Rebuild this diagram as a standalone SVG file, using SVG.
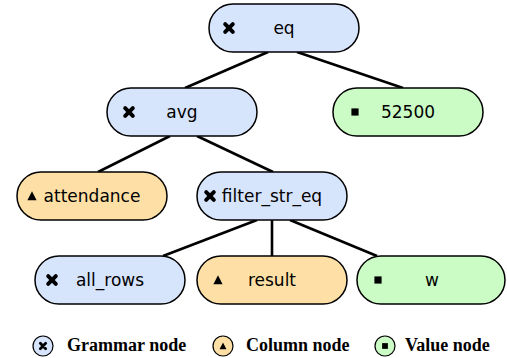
<svg xmlns="http://www.w3.org/2000/svg" width="507" height="358" viewBox="0 0 507 358">
  <style>
    .node { stroke: #000; stroke-width: 1.5; }
    .grammar { fill: #d6e4fc; }
    .column { fill: #fee0a6; }
    .value { fill: #ccfcc6; }
    .label { font-family: "DejaVu Sans", "Verdana", sans-serif; font-size: 17px; fill: #000; text-anchor: middle; }
    .edge { stroke: #000; stroke-width: 2.6; fill: none; }
    .legend-text { font-family: "Liberation Serif", "Times New Roman", serif; font-size: 18px; font-weight: bold; fill: #000; }
    .legend-dot { stroke: #000; stroke-width: 1.2; }
  </style>
  <defs>
    <!-- heavy cross marks grammar nodes -->
    <g id="icon-cross">
      <path d="M-3.8,-3.8 L3.8,3.8 M3.8,-3.8 L-3.8,3.8" stroke="#000" stroke-width="4" stroke-linecap="round"/>
    </g>
    <!-- triangle marks column nodes -->
    <path id="icon-tri" d="M0,-4.8 L4.6,4.2 L-4.6,4.2 Z" fill="#000"/>
    <!-- square marks value nodes -->
    <rect id="icon-sq" x="-3.6" y="-3.6" width="7.2" height="7.2" fill="#000"/>
  </defs>

  <g id="connectors">
    <line class="edge" x1="268" y1="52" x2="185" y2="88"/>
    <line class="edge" x1="297" y1="52" x2="403" y2="88"/>
    <line class="edge" x1="170" y1="136" x2="98" y2="172"/>
    <line class="edge" x1="197" y1="136" x2="273" y2="172"/>
    <line class="edge" x1="257" y1="220" x2="163" y2="256"/>
    <line class="edge" x1="272" y1="220" x2="272" y2="256"/>
    <line class="edge" x1="290" y1="220" x2="377" y2="256"/>
  </g>

  <g id="node-eq">
    <rect class="node grammar" x="209" y="4" width="150" height="48" rx="24"/>
    <use href="#icon-cross" x="229" y="28"/>
    <text class="label" x="284" y="34">eq</text>
  </g>

  <g id="node-avg">
    <rect class="node grammar" x="107" y="88" width="150" height="48" rx="24"/>
    <use href="#icon-cross" x="129" y="112"/>
    <text class="label" x="182" y="118">avg</text>
  </g>

  <g id="node-52500">
    <rect class="node value" x="333" y="88" width="150" height="48" rx="24"/>
    <use href="#icon-sq" x="355" y="112"/>
    <text class="label" x="408" y="118">52500</text>
  </g>

  <g id="node-attendance">
    <rect class="node column" x="17" y="172" width="150" height="48" rx="24"/>
    <use href="#icon-tri" x="32" y="196"/>
    <text class="label" x="92" y="202">attendance</text>
  </g>

  <g id="node-filter_str_eq">
    <rect class="node grammar" x="197" y="172" width="150" height="48" rx="24"/>
    <use href="#icon-cross" x="210" y="196"/>
    <text class="label" x="272" y="202">filter_str_eq</text>
  </g>

  <g id="node-all_rows">
    <rect class="node grammar" x="35" y="256" width="150" height="48" rx="24"/>
    <use href="#icon-cross" x="52" y="280"/>
    <text class="label" x="110" y="286">all_rows</text>
  </g>

  <g id="node-result">
    <rect class="node column" x="197" y="256" width="150" height="48" rx="24"/>
    <use href="#icon-tri" x="218" y="280"/>
    <text class="label" x="272" y="286">result</text>
  </g>

  <g id="node-w">
    <rect class="node value" x="357" y="256" width="148" height="48" rx="24"/>
    <use href="#icon-sq" x="378" y="280"/>
    <text class="label" x="432" y="286">w</text>
  </g>

  <g id="legend">
    <circle class="legend-dot grammar" cx="43" cy="346" r="10"/>
    <g transform="translate(43,346) scale(0.7)"><use href="#icon-cross"/></g>
    <text class="legend-text" x="67" y="351">Grammar node</text>

    <circle class="legend-dot column" cx="223" cy="346" r="10"/>
    <g transform="translate(223,346) scale(0.75)"><use href="#icon-tri"/></g>
    <text class="legend-text" x="246" y="351">Column node</text>

    <circle class="legend-dot value" cx="385" cy="346" r="10"/>
    <g transform="translate(385,346) scale(0.8)"><use href="#icon-sq"/></g>
    <text class="legend-text" x="405" y="351">Value node</text>
  </g>
</svg>
